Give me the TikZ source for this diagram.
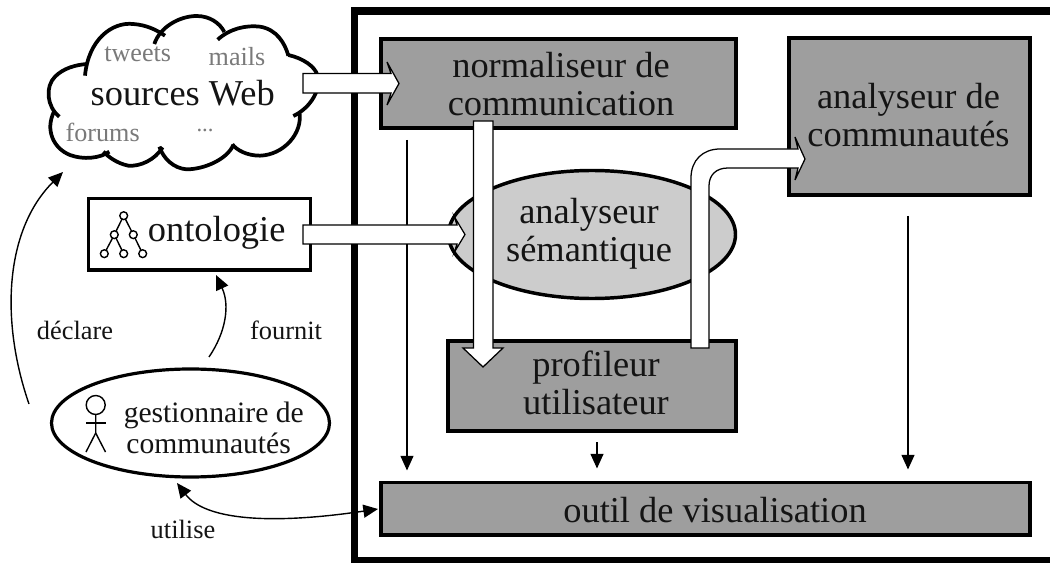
\documentclass[tikz,border=0pt]{standalone}
\usepackage{fontspec}
\setmainfont{Liberation Serif}
\usetikzlibrary{shapes.geometric,arrows.meta}
\tikzset{
  big/.style={font=\fontsize{27.3}{28.5}\selectfont,align=center,inner sep=0pt,text=black!92},
  mid/.style={font=\fontsize{22.2}{23}\selectfont,inner sep=0pt,text=black!92},
  small/.style={font=\fontsize{19.8}{22}\selectfont,inner sep=0pt,text=black!92},
  grey/.style={font=\fontsize{19.6}{22}\selectfont,inner sep=0pt,text=black!52},
  module/.style={draw=black,fill=black!38,line width=2.8pt,outer sep=0pt,inner sep=0pt},
  conn/.style={line width=.95pt,-{Triangle[length=11pt,width=9.75pt]},shorten >=0pt},
  curved/.style={line width=1.05pt,-{Triangle[length=11pt,width=9.75pt]}},
  bicurved/.style={line width=1.05pt,{Triangle[length=11pt,width=9.75pt]}-{Triangle[length=11pt,width=9.75pt]}},
  fatarrow/.style={draw=black,fill=white,line width=.95pt,line join=miter},
  cloudline/.style={draw=black,line width=2.8pt,line cap=butt},
  icon/.style={draw=black,line width=1.05pt},
  treenode/.style={draw=black,fill=white,line width=1.05pt},
}
\begin{document}
\begin{tikzpicture}[x=.75pt,y=-.75pt]
\clip (0,0) rectangle (1050,563);
\fill[white] (0,0) rectangle (1050,563);
% outer frame
\draw[line width=5.7pt] (1070,11.3) -- (354.5,11.3) -- (354.5,560.5) -- (1070,560.5);
% modules
\node[module,minimum width=266.25pt,minimum height=66.75pt] (norm) at (558.5,83.5) {};
\node[module,minimum width=180.75pt,minimum height=117.75pt] (comm) at (909.5,116.5) {};
\node[module,minimum width=216pt,minimum height=67.5pt] (prof) at (592,386) {};
\node[module,minimum width=486.75pt,minimum height=39.4pt] (outil) at (705.5,508.75) {};
\node[ellipse,draw=black,fill=black!20,line width=2.6pt,inner sep=0pt,outer sep=0pt,minimum width=215.25pt,minimum height=96pt] (sem) at (592,234.5) {};
\node[draw=black,fill=white,line width=2.3pt,outer sep=0pt,inner sep=0pt,minimum width=166.5pt,minimum height=53.6pt] (onto) at (199.5,234.25) {};
\node[ellipse,draw=black,fill=white,line width=2.4pt,inner sep=0pt,outer sep=0pt,minimum width=208.5pt,minimum height=81pt] (gest) at (190.5,423) {};
% cloud
\begin{scope}[shift={(40,10)},x=.25pt,y=-.25pt]
\fill[white] (135,170) -- (345,70) -- (540,70) -- (745,135) -- (830,200) -- (770,315) -- (580,410) -- (360,415) -- (200,425) -- (40,320) -- cycle;
\draw[cloudline] (135,197) .. controls (145,90) and (215,35) .. (280,42) .. controls (320,45) and (350,60) .. (375,77);
\draw[cloudline] (343,102) .. controls (360,50) and (420,18) .. (470,18) .. controls (510,18) and (540,40) .. (553,66);
\draw[cloudline] (533,89) .. controls (570,55) and (620,45) .. (660,50) .. controls (710,58) and (735,100) .. (745,137);
\draw[cloudline] (745,135) .. controls (790,145) and (825,170) .. (832,195) .. controls (845,250) and (800,300) .. (760,318);
\draw[cloudline] (778,305) .. controls (790,370) and (730,435) .. (660,437) .. controls (620,437) and (590,420) .. (577,403);
\draw[cloudline] (580,405) .. controls (560,450) and (490,478) .. (440,478) .. controls (400,475) and (370,445) .. (358,410);
\draw[cloudline] (368,412) .. controls (345,450) and (300,470) .. (265,467) .. controls (230,460) and (205,440) .. (190,425);
\draw[cloudline] (208,425) .. controls (180,445) and (130,450) .. (90,435) .. controls (40,415) and (15,360) .. (42,305);
\draw[cloudline] (58,320) .. controls (20,290) and (15,230) .. (45,200) .. controls (70,175) and (105,165) .. (140,162);
\end{scope}
% thin connectors
\coordinate (n1) at ([shift={(26,12)}]norm.south west);
\coordinate (o1) at ([shift={(26,-12)}]outil.north west);
\draw[conn] (n1) -- (o1);
\coordinate (p1) at ([shift={(5,11)}]prof.south);
\coordinate (o2) at (outil.north -| p1);
\draw[conn] (p1) -- ([shift={(0,-14)}]o2);
\coordinate (c1) at ([shift={(-1.5,21)}]comm.south);
\coordinate (o3) at (outil.north -| c1);
\draw[conn] (c1) -- ([shift={(0,-13)}]o3);
% curved connectors
\coordinate (dec0) at (29,404);
\coordinate (dec1) at (63,172);
\draw[curved] (dec0) .. controls (0,320) and (5,230) .. (dec1);
\coordinate (fou0) at (209,357);
\coordinate (fou1) at (216,275);
\draw[curved] (fou0) .. controls (226,332) and (230,305) .. (fou1);
\coordinate (uti0) at (177,483);
\coordinate (uti1) at (378,509);
\draw[bicurved] (uti0) .. controls (205,520) and (270,525) .. (uti1);
% labels under the fat arrows
\node[big] (normt) at (561,84) {normaliseur de\\communication};
\node[big] (commt) at (908.5,115) {analyseur de\\communautés};
\node[big] (semt) at (589,233.5) {analyseur\\sémantique};
\node[big] (proft) at (596,383) {profileur\\utilisateur};
% fat arrows
\draw[fatarrow] (303,73.5) -- (391,73.5) -- (387,62) -- (399,83.5) -- (387,105) -- (391,93) -- (303,93) -- cycle;
\draw[fatarrow] (303,225) -- (457,225) -- (454.5,217) -- (465,234.5) -- (454.5,252) -- (457,244) -- (303,244) -- cycle;
\draw[fatarrow] (473.5,121) -- (493,121) -- (493,348) -- (503,348) -- (483,367) -- (463,348) -- (473.5,348) -- cycle;
\draw[fatarrow] (691,348) -- (691,178) .. controls (691,160) and (703,149) .. (720,149) -- (798,149) -- (795,137) -- (805,159) -- (795,180) -- (798,168) -- (728,168) .. controls (716,168) and (709,175) .. (709,186) -- (709,348) -- cycle;
% stick figure
\draw[icon] (95.7,405) circle (9.5);
\draw[icon] (95.7,414.5) -- (95.7,433) -- (86,452);
\draw[icon] (95.7,433) -- (105.5,452);
\draw[icon] (86,423) -- (105.5,423);
% tree icon
\draw[icon] (123.7,215.7) -- (114.3,234.7) -- (104.3,253.7);
\draw[icon] (114.3,234.7) -- (123.7,253.7);
\draw[icon] (123.7,215.7) -- (133.3,234.7) -- (142.7,253.7);
\foreach \px/\py in {123.7/215.7,114.3/234.7,133.3/234.7,104.3/253.7,123.7/253.7,142.7/253.7}
  \draw[treenode] (\px,\py) circle (3.9);
% labels
\node[big] (outilt) at (715,510) {outil de visualisation};
\node[big] (ontot) at (216.7,233) {ontologie};
\node[big] (webt) at (182.7,93) {sources Web};
\node[grey] (tw) at (137.7,54) {tweets};
\node[grey] (ma) at (237,57) {mails};
\node[grey] (fo) at (102.7,132) {forums};
\node[grey,font=\fontsize{17}{19}\selectfont] (el) at (205,130) {...};
\node[mid,align=left,anchor=west] (gestt) at (123.5,428) {gestionnaire de\\\hspace{2pt}communautés};
\node[small] (de) at (75,330) {déclare};
\node[small] (fn) at (286,330) {fournit};
\node[small] (ut) at (183,529) {utilise};
\end{tikzpicture}
\end{document}
